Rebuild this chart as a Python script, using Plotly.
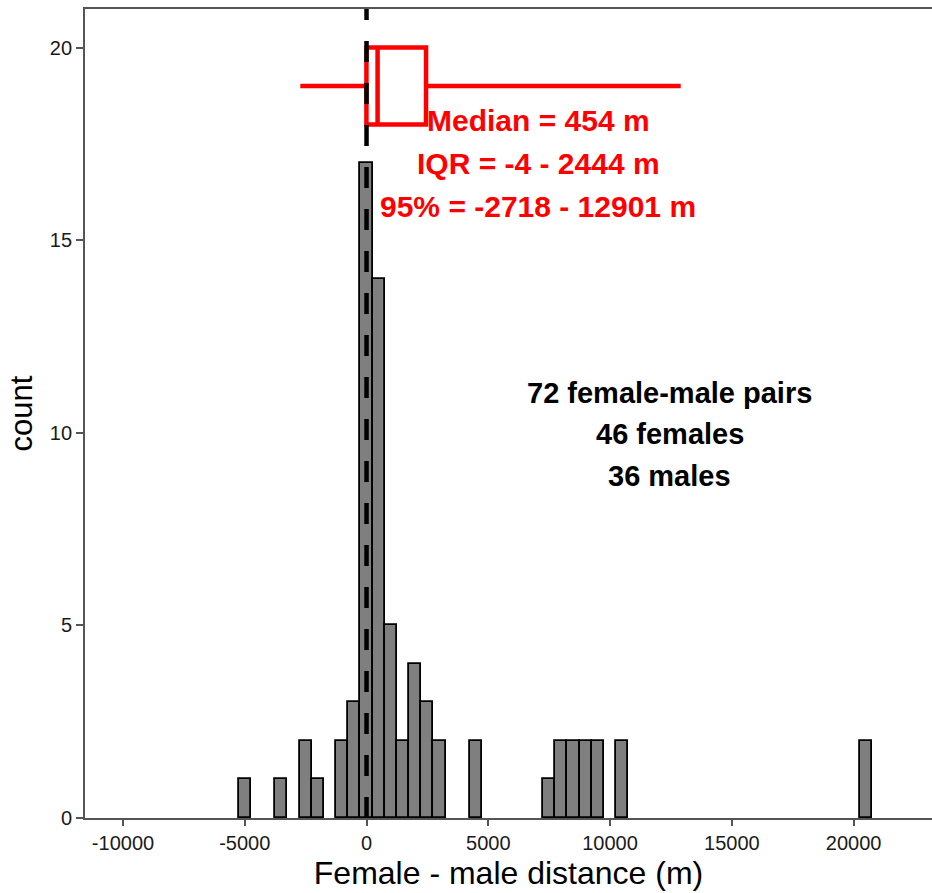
import plotly.graph_objects as go

# Histogram of female - male distances (500 m bins, given by bin centre)
bin_centers = [-5000, -3500, -2500, -2000, -1000, -500, 0, 500, 1000, 1500,
               2000, 2500, 3000, 4500, 7500, 8000, 8500, 9000, 9500, 10500, 20500]
bin_counts = [1, 1, 2, 1, 2, 3, 17, 14, 5, 2,
              4, 3, 2, 2, 1, 2, 2, 2, 2, 2, 2]
bin_width = 500

# Summary statistics (m)
median_m = 454
iqr_m = [-4, 2444]
range95_m = [-2718, 12901]
box_row = 19

# Sample sizes
n_pairs = 72
n_females = 46
n_males = 36

x_tick_vals = [-10000, -5000, 0, 5000, 10000, 15000, 20000]
x_tick_text = ["-10000", "-5000", "0", "5000", "10000", "15000", "20000"]
y_tick_vals = [0, 5, 10, 15, 20]

FONT = "Liberation Sans, Arial, sans-serif"
AXIS_GREY = "#555555"

fig = go.Figure()

fig.add_trace(go.Bar(
    x=bin_centers, y=bin_counts, width=bin_width,
    marker=dict(color="#7F7F7F", line=dict(color="black", width=1.8)),
    showlegend=False, hoverinfo="skip",
))

# Reference line at zero distance
fig.add_trace(go.Scatter(
    x=[0, 0], y=[0, 21], mode="lines",
    line=dict(color="black", width=4.5, dash="21px,21px"),
    showlegend=False, hoverinfo="skip",
))

# Horizontal box: IQR box, median, whiskers to the 95% range
fig.add_trace(go.Box(
    y=[box_row], orientation="h",
    q1=[iqr_m[0]], median=[median_m], q3=[iqr_m[1]],
    lowerfence=[range95_m[0]], upperfence=[range95_m[1]],
    width=2, whiskerwidth=0,
    line=dict(color="red", width=4.5),
    fillcolor="rgba(255,255,255,0)",
    boxpoints=False, showlegend=False, hoverinfo="skip",
))

summary_lines = [
    f"Median = {median_m} m",
    f"IQR = {iqr_m[0]} - {iqr_m[1]} m",
    f"95% = {range95_m[0]} - {range95_m[1]} m",
]
summary_y = [18.1, 17.0, 15.88]
for txt, yy in zip(summary_lines, summary_y):
    fig.add_annotation(x=7050, y=yy, text=f"<b>{txt}</b>", showarrow=False,
                       xanchor="center", yanchor="middle",
                       font=dict(family=FONT, size=30, color="red"))

sample_lines = [f"{n_pairs} female-male pairs", f"{n_females} females", f"{n_males} males"]
sample_y = [11.02, 9.96, 8.89]
for txt, yy in zip(sample_lines, sample_y):
    fig.add_annotation(x=12450, y=yy, text=f"<b>{txt}</b>", showarrow=False,
                       xanchor="center", yanchor="middle",
                       font=dict(family=FONT, size=29, color="black"))

fig.update_layout(
    width=932, height=893,
    margin=dict(l=85, r=0, t=9, b=75),
    plot_bgcolor="white", paper_bgcolor="white",
    font=dict(family=FONT, color="black"),
    bargap=0,
    xaxis=dict(
        range=[-11560, 23220],
        tickmode="array", tickvals=x_tick_vals, ticktext=x_tick_text,
        ticks="outside", ticklen=6, tickwidth=1.5, tickcolor=AXIS_GREY,
        showline=True, linecolor=AXIS_GREY, linewidth=1.8, mirror=True,
        showgrid=False, zeroline=False,
        tickfont=dict(size=20, color="#1a1a1a"),
        title=dict(text="Female - male distance (m)", font=dict(size=32), standoff=9),
    ),
    yaxis=dict(
        range=[0, 21],
        tickmode="array", tickvals=y_tick_vals,
        ticks="outside", ticklen=7, tickwidth=1.5, tickcolor=AXIS_GREY,
        showline=True, linecolor=AXIS_GREY, linewidth=1.8,
        showgrid=False, zeroline=False,
        tickfont=dict(size=20, color="#1a1a1a"),
        title=dict(text="count", font=dict(size=31), standoff=8),
    ),
)

fig.write_html("out.html")
